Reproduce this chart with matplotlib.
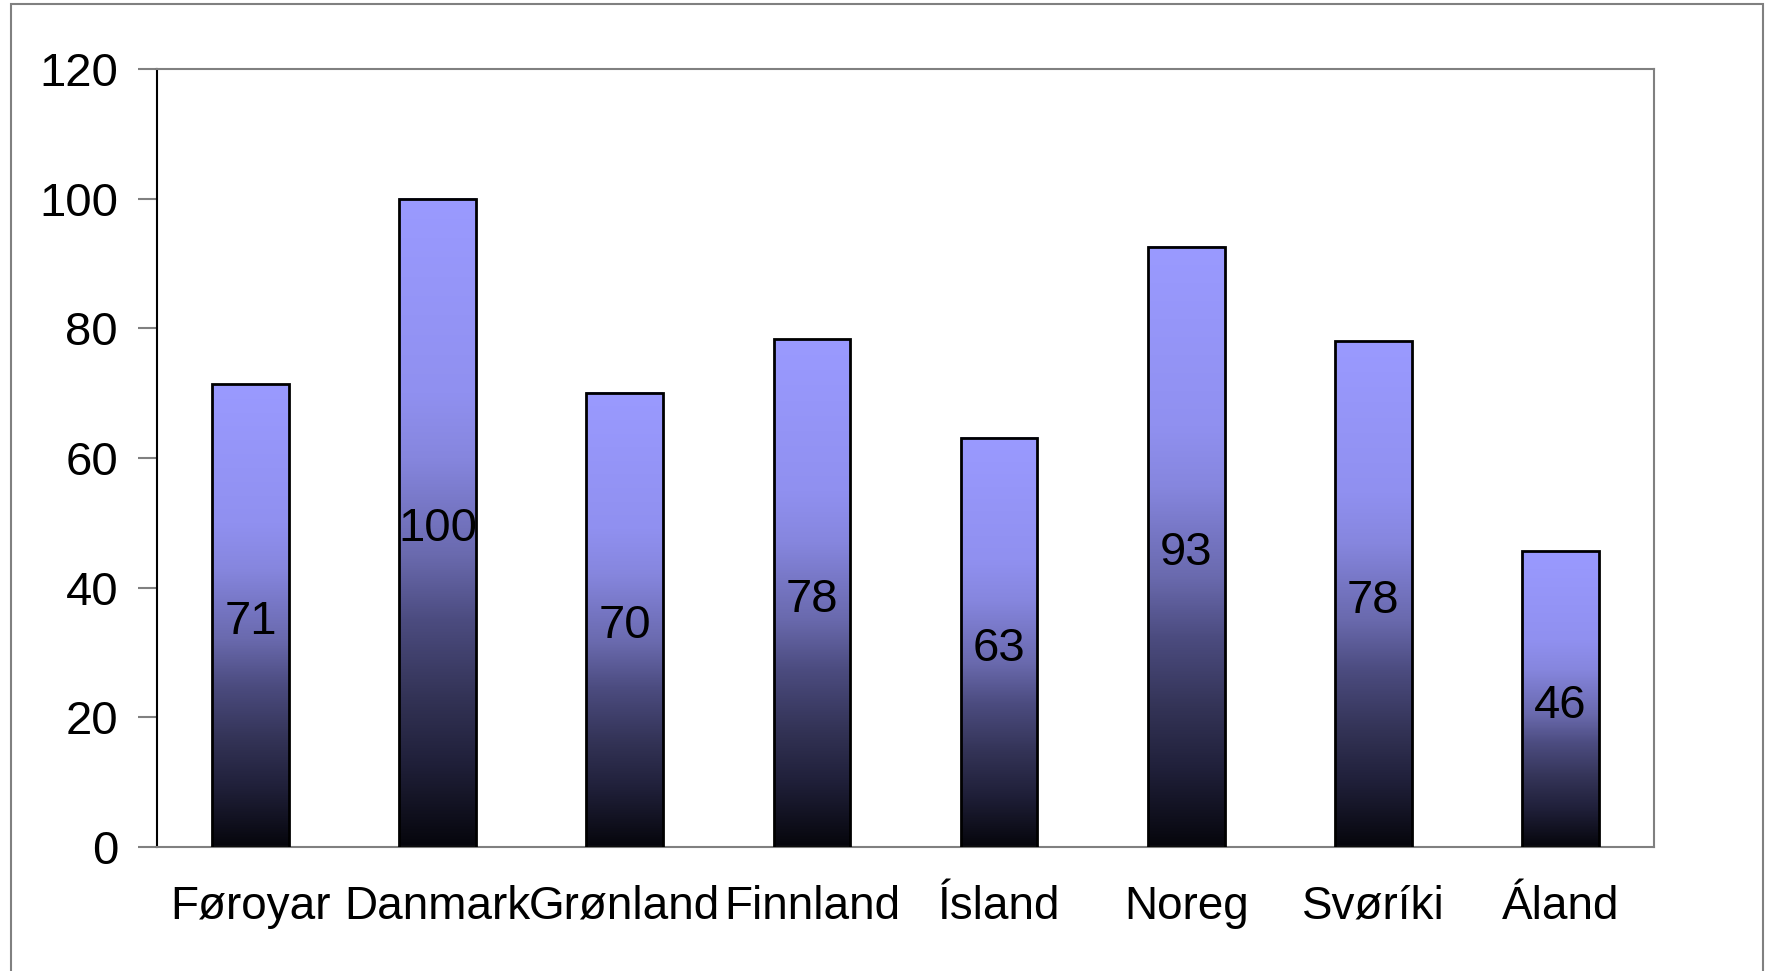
import numpy as np
import matplotlib
matplotlib.use('Agg')
import matplotlib.pyplot as plt
from matplotlib.colors import LinearSegmentedColormap
from matplotlib.patches import Rectangle

plt.rcParams['font.family'] = ['Liberation Sans', 'DejaVu Sans']

# data
countries = ['Føroyar', 'Danmark', 'Grønland', 'Finnland', 'Ísland', 'Noreg', 'Svøríki', 'Áland']
values = [71.4, 100.0, 70.1, 78.3, 63.1, 92.6, 78.0, 45.6]
yticks = [0, 20, 40, 60, 80, 100, 120]

W, H = 1771, 971
fig = plt.figure(figsize=(W / 100, H / 100), dpi=100)
ax = fig.add_axes([157 / W, 1 - 847 / H, (1654 - 157) / W, (847 - 69) / H])

# outer frame (open at the bottom)
fig.patches.append(Rectangle((11 / W, -0.1), (1763 - 11) / W, 1.1 - 4 / H,
                             transform=fig.transFigure, fill=False,
                             edgecolor='#808080', lw=1.5))

grad = LinearSegmentedColormap.from_list(
    'bar', [(0, '#06060c'), (0.13, '#20203a'), (0.23, '#333356'), (0.35, '#4c4c80'),
            (0.45, '#6a6aae'), (0.52, '#7676c4'), (0.6, '#8686de'), (0.7, '#9090f0'),
            (1, '#9a9aff')])
gimg = np.linspace(0, 1, 256).reshape(-1, 1)

x = np.arange(len(countries))
bw = 0.41
bars = ax.bar(x, values, width=bw, facecolor='none', edgecolor='black', lw=2, zorder=3)
for b, v in zip(bars, values):
    x0 = b.get_x()
    ax.imshow(gimg, cmap=grad, aspect='auto', origin='lower',
              extent=(x0, x0 + bw, 0, v), zorder=2)
    ax.text(b.get_x() + bw / 2, v / 2 - 1.0, '%d' % round(v), ha='center', va='center',
            fontsize=34, color='black', zorder=4)

ax.set_xlim(-0.5, len(countries) - 0.5)
ax.set_ylim(0, 120)
ax.set_yticks(yticks)
ax.set_xticks(x)
ax.set_xticklabels(countries)
ax.tick_params(axis='y', length=14, width=1.5, color='#808080', pad=14, labelsize=34)
ax.tick_params(axis='x', length=0, pad=27, labelsize=33)

for s in ['top', 'right', 'bottom']:
    ax.spines[s].set_color('#808080')
    ax.spines[s].set_linewidth(1.5)
ax.spines['left'].set_color('black')
ax.spines['left'].set_linewidth(1.5)

fig.savefig('out.png', dpi=100)
